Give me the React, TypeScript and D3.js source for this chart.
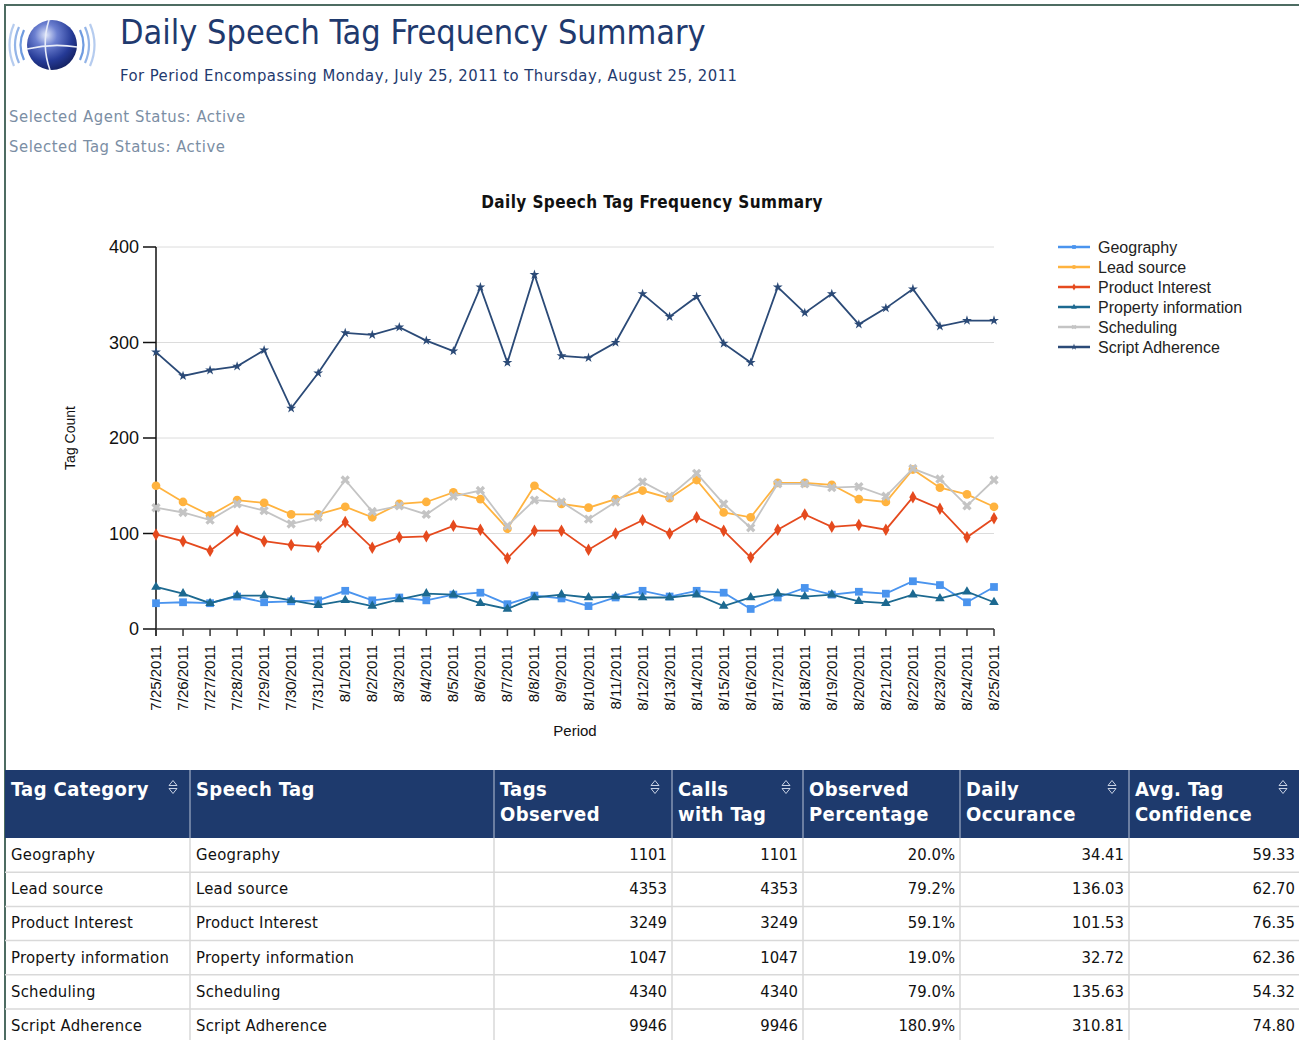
import React from 'react';
import * as d3 from 'd3';

// dates on the x axis
const dates = [
  '7/25/2011', '7/26/2011', '7/27/2011', '7/28/2011', '7/29/2011', '7/30/2011', '7/31/2011',
  '8/1/2011', '8/2/2011', '8/3/2011', '8/4/2011', '8/5/2011', '8/6/2011', '8/7/2011', '8/8/2011',
  '8/9/2011', '8/10/2011', '8/11/2011', '8/12/2011', '8/13/2011', '8/14/2011', '8/15/2011',
  '8/16/2011', '8/17/2011', '8/18/2011', '8/19/2011', '8/20/2011', '8/21/2011', '8/22/2011',
  '8/23/2011', '8/24/2011', '8/25/2011',
];

const geography = [27, 28, 27, 34, 28, 29, 30, 40, 30, 33, 30, 36, 38, 26, 35, 32, 24, 33, 40, 34, 40, 38, 21, 33, 43, 36, 39, 37, 50, 46, 28, 44];
const leadSource = [150, 133, 119, 135, 132, 120, 120, 128, 117, 131, 133, 143, 136, 105, 150, 131, 127, 136, 145, 137, 156, 122, 117, 153, 153, 151, 136, 133, 167, 148, 141, 128];
const productInterest = [99, 92, 82, 103, 92, 88, 86, 112, 85, 96, 97, 108, 104, 74, 103, 103, 83, 100, 114, 100, 117, 103, 75, 104, 120, 107, 109, 104, 138, 126, 96, 116];
const propertyInfo = [44, 37, 27, 35, 35, 30, 25, 30, 24, 31, 37, 36, 27, 21, 33, 36, 33, 34, 33, 33, 36, 24, 33, 37, 34, 36, 29, 27, 36, 32, 39, 28];
const scheduling = [127, 122, 114, 131, 124, 110, 117, 156, 123, 129, 120, 139, 145, 108, 135, 133, 115, 133, 154, 139, 163, 131, 106, 152, 152, 148, 149, 139, 168, 157, 129, 156];
const scriptAdherence = [290, 265, 271, 275, 292, 231, 268, 310, 308, 316, 302, 291, 358, 279, 371, 286, 284, 300, 351, 327, 348, 299, 279, 358, 331, 351, 319, 336, 356, 317, 323, 323];

const yTicks = [0, 100, 200, 300, 400];

// table
const tableHeaders = [
  ['Tag Category'], ['Speech Tag'], ['Tags', 'Observed'], ['Calls', 'with Tag'],
  ['Observed', 'Percentage'], ['Daily', 'Occurance'], ['Avg. Tag', 'Confidence'],
];
const sortable = [true, false, true, true, false, true, true];
const tagNames = ['Geography', 'Lead source', 'Product Interest', 'Property information', 'Scheduling', 'Script Adherence'];
const tagsObserved = ['1101', '4353', '3249', '1047', '4340', '9946'];
const callsWithTag = ['1101', '4353', '3249', '1047', '4340', '9946'];
const observedPct = ['20.0%', '79.2%', '59.1%', '19.0%', '79.0%', '180.9%'];
const dailyOccurance = ['34.41', '136.03', '101.53', '32.72', '135.63', '310.81'];
const avgConfidence = ['59.33', '62.70', '76.35', '62.36', '54.32', '74.80'];

const series = [
  { name: 'Geography', values: geography, color: '#4a94ee', symbol: d3.symbolSquare, size: 60, rotate: 0 },
  { name: 'Lead source', values: leadSource, color: '#ffb33f', symbol: d3.symbolCircle, size: 60, rotate: 0 },
  { name: 'Product Interest', values: productInterest, color: '#e54a1e', symbol: d3.symbolDiamond, size: 45, rotate: 0 },
  { name: 'Property information', values: propertyInfo, color: '#1c6990', symbol: d3.symbolTriangle, size: 40, rotate: 0 },
  { name: 'Scheduling', values: scheduling, color: '#c4c4c4', symbol: d3.symbolCross, size: 55, rotate: 45 },
  { name: 'Script Adherence', values: scriptAdherence, color: '#2b4a77', symbol: d3.symbolStar, size: 30, rotate: 0 },
];

const tahoma = '"DejaVu Sans Condensed", "DejaVu Sans", sans-serif';
const arial = '"Liberation Sans", Arial, sans-serif';

const App = () => {
  const x = d3.scalePoint<string>().domain(dates).range([156, 994]);
  const y = d3.scaleLinear().domain([0, 400]).range([629, 247]);
  const line = d3.line<number>().x((d, i) => x(dates[i]) as number).y(d => y(d));

  const colX = [5, 190, 494, 672, 803, 960, 1129, 1300];
  const headTop = 770;
  const headBottom = 838;
  const rowH = 34.2;

  const sortIcon = (cx: number, cy: number, key: string) => (
    <g key={key} fill="none" stroke="#c9d2e4" strokeWidth={1}>
      <path d={`M${cx - 4},${cy - 1.5} L${cx},${cy - 6.5} L${cx + 4},${cy - 1.5} Z`} />
      <path d={`M${cx - 4},${cy + 1.5} L${cx},${cy + 6.5} L${cx + 4},${cy + 1.5} Z`} />
    </g>
  );

  const numCols = [tagsObserved, callsWithTag, observedPct, dailyOccurance, avgConfidence];

  return (
    <svg width={1299} height={1040} style={{ position: 'absolute', left: 0, top: 0, background: '#fff' }}>
      <defs>
        <radialGradient id="globe" cx="38%" cy="30%" r="75%">
          <stop offset="0%" stopColor="#dfe6fa" />
          <stop offset="30%" stopColor="#6b7fd0" />
          <stop offset="70%" stopColor="#253a96" />
          <stop offset="100%" stopColor="#14205e" />
        </radialGradient>
      </defs>

      {/* page frame */}
      <line x1={4} y1={5} x2={1299} y2={5} stroke="#4d6c62" strokeWidth={2} />
      <line x1={5} y1={4} x2={5} y2={1040} stroke="#4d6c62" strokeWidth={2} />

      {/* logo */}
      <g>
        {[0, 1, 2].map(i => (
          <g key={i} fill="none" stroke="#6f9be0" strokeWidth={2.2} opacity={1 - i * 0.25}>
            <path d={`M${24 - i * 5},${30 - i * 3} Q${17 - i * 6},${45} ${24 - i * 5},${60 + i * 3}`} />
            <path d={`M${80 + i * 5},${30 - i * 3} Q${87 + i * 6},${45} ${80 + i * 5},${60 + i * 3}`} />
          </g>
        ))}
        <circle cx={52} cy={45} r={25} fill="url(#globe)" />
        <path d="M49,20 Q41,45 50,70" fill="none" stroke="#e8ecf8" strokeWidth={1.6} />
        <path d="M27,49 Q52,43 77,47" fill="none" stroke="#e8ecf8" strokeWidth={1.6} />
      </g>

      {/* header texts */}
      <text x={120} y={44} fontFamily={tahoma} fontSize={34} fill="#1f3a6e">Daily Speech Tag Frequency Summary</text>
      <text x={120} y={81} fontFamily={tahoma} fontSize={16.5} letterSpacing={0.48} fill="#1f3a6e">For Period Encompassing Monday, July 25, 2011 to Thursday, August 25, 2011</text>
      <text x={9} y={122} fontFamily={tahoma} fontSize={16.5} letterSpacing={0.55} fill="#7b8ea4">Selected Agent Status: Active</text>
      <text x={9} y={152} fontFamily={tahoma} fontSize={16.5} letterSpacing={0.55} fill="#7b8ea4">Selected Tag Status: Active</text>

      {/* chart title */}
      <text x={652} y={208} textAnchor="middle" fontFamily={tahoma} fontWeight="bold" fontSize={17} letterSpacing={0.4} fill="#111">Daily Speech Tag Frequency Summary</text>

      {/* grid */}
      {yTicks.filter(t => t > 0).map(t => (
        <line key={t} x1={156} x2={994} y1={y(t)} y2={y(t)} stroke="#dcdcdc" strokeWidth={1} />
      ))}

      {/* y axis */}
      <line x1={156} x2={156} y1={247} y2={636} stroke="#111" strokeWidth={1.5} />
      {yTicks.map(t => (
        <g key={t}>
          <line x1={143} x2={156} y1={y(t)} y2={y(t)} stroke="#111" strokeWidth={1.5} />
          <text x={139} y={y(t) + 6} textAnchor="end" fontFamily={arial} fontSize={18} fill="#111">{t}</text>
        </g>
      ))}
      <text transform="translate(75,438) rotate(-90)" textAnchor="middle" fontFamily={arial} fontSize={14} fill="#111">Tag Count</text>

      {/* x axis */}
      <line x1={156} x2={994} y1={629} y2={629} stroke="#333" strokeWidth={1.5} />
      {dates.map(dt => (
        <g key={dt}>
          <line x1={x(dt)} x2={x(dt)} y1={629} y2={636} stroke="#333" strokeWidth={1.5} />
          <text transform={`translate(${(x(dt) as number) + 5},645) rotate(-90)`} textAnchor="end" fontFamily={arial} fontSize={15} fill="#111">{dt}</text>
        </g>
      ))}
      <text x={575} y={736} textAnchor="middle" fontFamily={arial} fontSize={15} fill="#111">Period</text>

      {/* series */}
      {series.map(s => (
        <g key={s.name}>
          <path d={line(s.values) || ''} fill="none" stroke={s.color} strokeWidth={1.8} />
          {s.values.map((v, i) => (
            <path key={i} d={d3.symbol().type(s.symbol).size(s.size)() || ''}
              transform={`translate(${x(dates[i])},${y(v)}) rotate(${s.rotate})`}
              fill={s.color} />
          ))}
        </g>
      ))}

      {/* legend */}
      {series.map((s, i) => (
        <g key={s.name} transform={`translate(1058,${247 + i * 20})`}>
          <line x1={0} x2={32} y1={0} y2={0} stroke={s.color} strokeWidth={2.5} />
          <path d={d3.symbol().type(s.symbol).size(14)() || ''} transform={`translate(16,0) rotate(${s.rotate})`} fill={s.color} />
          <text x={40} y={5.5} fontFamily={arial} fontSize={16} fill="#222">{s.name}</text>
        </g>
      ))}

      {/* table header */}
      <rect x={5} y={headTop} width={1300} height={headBottom - headTop} fill="#1e3a6d" />
      {colX.slice(1, -1).map(cx => (
        <line key={cx} x1={cx} x2={cx} y1={headTop} y2={headBottom} stroke="#b8c2d6" strokeWidth={1} />
      ))}
      {tableHeaders.map((h, i) => (
        <g key={i}>
          {h.map((ln, j) => (
            <text key={j} x={colX[i] + 6} y={796 + j * 25} fontFamily={tahoma} fontWeight="bold" fontSize={20} letterSpacing={0.4} fill="#fff">{ln}</text>
          ))}
          {sortable[i] && sortIcon(colX[i + 1] - 17, 787, `s${i}`)}
        </g>
      ))}

      {/* table body */}
      {tagNames.map((name, r) => {
        const top = headBottom + r * rowH;
        const base = top + 22;
        return (
          <g key={name}>
            <line x1={5} x2={1299} y1={top + rowH} y2={top + rowH} stroke="#d9d9d9" strokeWidth={1.5} />
            <text x={11} y={base} fontFamily={tahoma} fontSize={16.5} letterSpacing={0.25} fill="#111">{name}</text>
            <text x={196} y={base} fontFamily={tahoma} fontSize={16.5} letterSpacing={0.25} fill="#111">{name}</text>
            {numCols.map((col, c) => (
              <text key={c} x={colX[c + 3] - 5} y={base} textAnchor="end" fontFamily={tahoma} fontSize={16.5} fill="#111">{col[r]}</text>
            ))}
          </g>
        );
      })}
      {colX.slice(1, -1).map(cx => (
        <line key={`b${cx}`} x1={cx} x2={cx} y1={headBottom} y2={1040} stroke="#d9d9d9" strokeWidth={1.5} />
      ))}
    </svg>
  );
};

export default App;
